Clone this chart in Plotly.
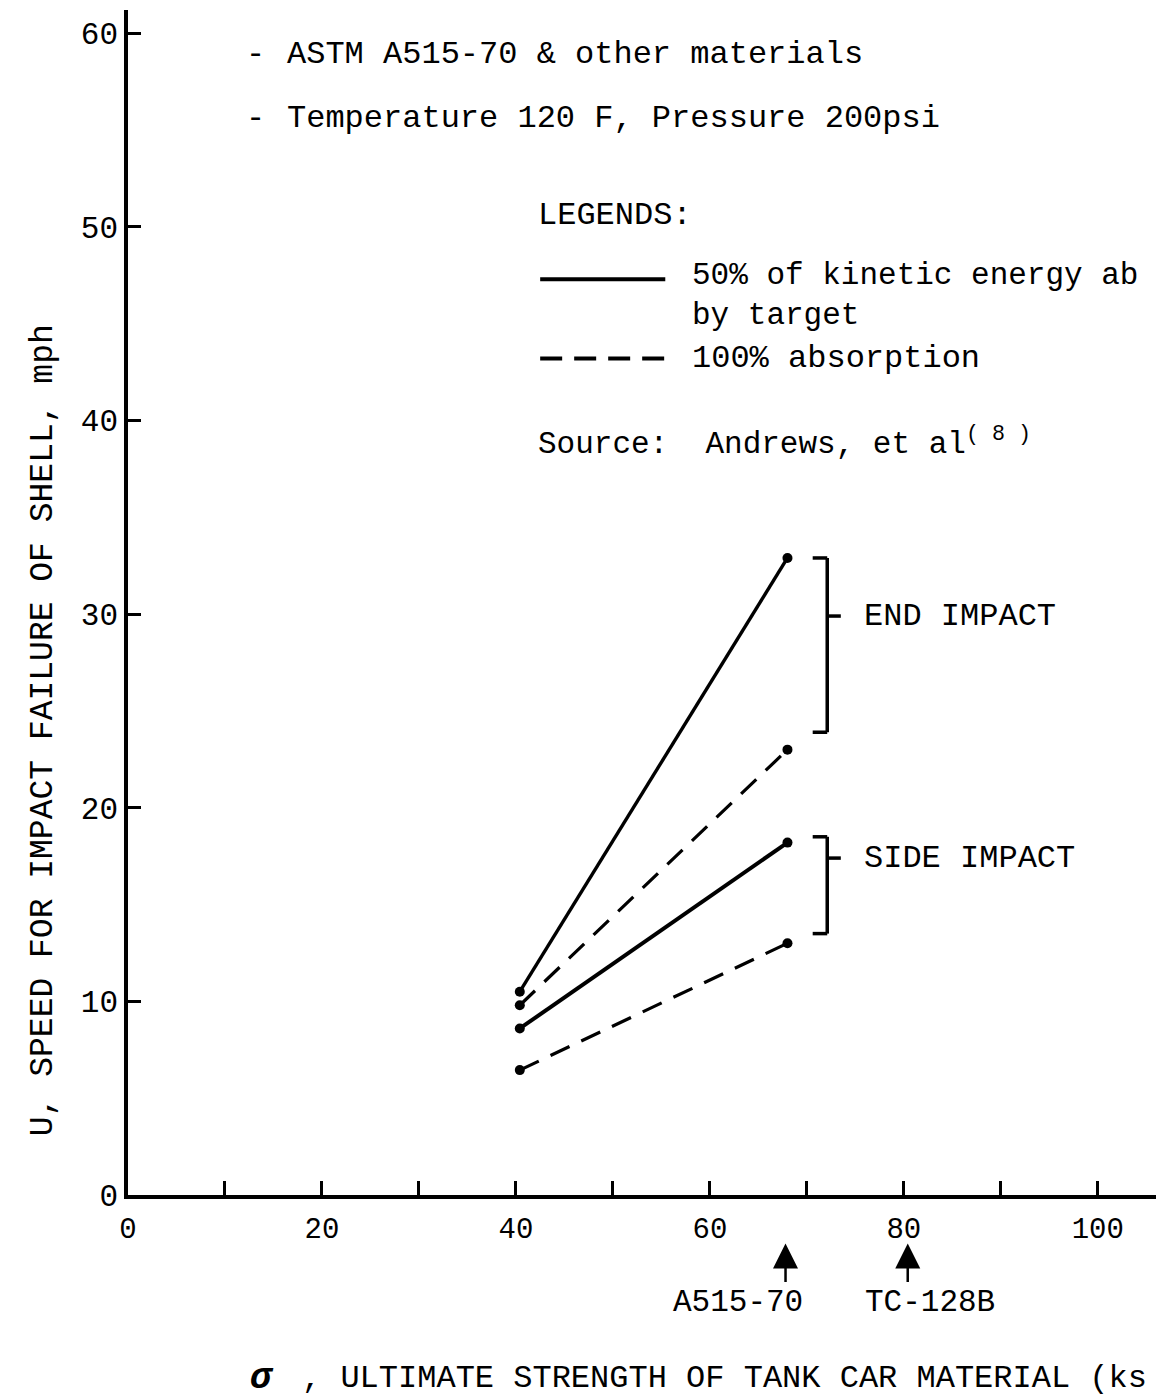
import plotly.graph_objects as go

# ---- data ----
strength = [40.4, 68.0]          # ksi
end_50 = [10.5, 32.9]            # mph, solid (50% absorbed)
end_100 = [9.8, 23.0]            # mph, dashed (100% absorption)
side_50 = [8.6, 18.2]
side_100 = [6.45, 13.0]
x_tick_vals = [0, 10, 20, 30, 40, 50, 60, 70, 80, 90, 100]
x_tick_text = ["0", "", "20", "", "40", "", "60", "", "80", "", "100"]
y_tick_vals = [0, 10, 20, 30, 40, 50, 60]
materials = ["A515-70", "TC-128B"]
material_x = [67.8, 80.4]
material_label_x = [56.0, 75.8]

FONT = "Liberation Mono, Courier New, monospace"
BLACK = "#000000"
Y_MAX = 61.2

fig = go.Figure()

def add_series(y, dash, width):
    fig.add_trace(go.Scatter(
        x=strength, y=y, mode="lines+markers",
        line=dict(color=BLACK, width=width, dash=dash),
        marker=dict(color=BLACK, size=10),
        showlegend=False, hoverinfo="skip"))

DASH = "21px,13px"
add_series(end_50, "solid", 3.4)
add_series(end_100, DASH, 3.2)
add_series(side_50, "solid", 4)
add_series(side_100, DASH, 3.2)

shapes = []
def seg(x0, y0, x1, y1, w=3, dash="solid"):
    shapes.append(dict(type="line", xref="x", yref="y", x0=x0, y0=y0, x1=x1, y1=y1,
                       line=dict(color=BLACK, width=w, dash=dash)))

# brackets
for top, bot, mid in [(32.9, 23.9, 29.9), (18.5, 13.5, 17.4)]:
    seg(72.1, top, 72.1, bot, w=3.5)
    seg(70.6, top, 72.1, top, w=3.5)
    seg(70.6, bot, 72.1, bot, w=3.5)
    seg(72.1, mid, 73.5, mid, w=3.5)

# legend samples
seg(42.5, 47.3, 55.4, 47.3, w=4)
seg(42.5, 43.2, 55.4, 43.2, w=4, dash="22px,12px")

ann = []
def txt(x, y, s, size=32, xanchor="left", yref="y", **kw):
    ann.append(dict(x=x, y=y, xref="x", yref=yref, text=s, showarrow=False,
                    xanchor=xanchor, yanchor="middle",
                    font=dict(family=FONT, size=size, color=BLACK), **kw))

txt(12.0, 58.9, "-")
txt(16.2, 58.9, "ASTM A515-70 &amp; other materials")
txt(12.0, 55.6, "-")
txt(16.2, 55.6, "Temperature 120 F, Pressure 200psi")
txt(42.1, 50.6, "LEGENDS:")
txt(58.0, 46.45, "50% of kinetic energy ab<br>by target", size=31, align="left")
txt(58.0, 43.2, "100% absorption")
txt(42.1, 38.9, "Source:  Andrews, et al<sup>( 8 )</sup>", size=31)
txt(75.7, 29.9, "END IMPACT")
txt(75.7, 17.4, "SIDE IMPACT")

# material arrows below axis (paper coords below the plot)
for name, mx, lx in zip(materials, material_x, material_label_x):
    ann.append(dict(x=mx, y=-0.041, xref="x", yref="paper", text="", showarrow=True,
                    ax=0, ay=40, arrowhead=2, arrowsize=2, arrowwidth=2.5,
                    arrowcolor=BLACK))
    txt(lx, -0.091, name, size=31, yref="paper")

# axis titles
ann.append(dict(x=-0.082, y=0.392, xref="paper", yref="paper", showarrow=False,
                text="U, SPEED FOR IMPACT FAILURE OF SHELL, mph", textangle=-90,
                xanchor="center", yanchor="middle",
                font=dict(family=FONT, size=33, color=BLACK)))
txt(13.8, -0.1545, "<b><i>σ</i></b>", size=36, xanchor="center", yref="paper")
txt(17.7, -0.1545, ", ULTIMATE STRENGTH OF TANK CAR MATERIAL (ks", size=32, yref="paper")

fig.update_layout(
    width=1156, height=1398,
    margin=dict(l=128, r=0, t=10, b=203),
    paper_bgcolor="white", plot_bgcolor="white",
    shapes=shapes, annotations=ann,
    xaxis=dict(range=[0, 106], tickvals=x_tick_vals, ticktext=x_tick_text,
               ticks="inside", ticklen=14, tickwidth=2.5, tickcolor=BLACK,
               showline=True, linecolor=BLACK, linewidth=4,
               showgrid=False, zeroline=False, ticklabelstandoff=4,
               tickfont=dict(family=FONT, size=29, color=BLACK)),
    yaxis=dict(range=[0, Y_MAX], tickvals=y_tick_vals,
               ticks="inside", ticklen=13, tickwidth=3, tickcolor=BLACK,
               showline=True, linecolor=BLACK, linewidth=3.5,
               showgrid=False, zeroline=False, ticklabelstandoff=0,
               tickfont=dict(family=FONT, size=31, color=BLACK)),
)

fig.write_html("out.html")
